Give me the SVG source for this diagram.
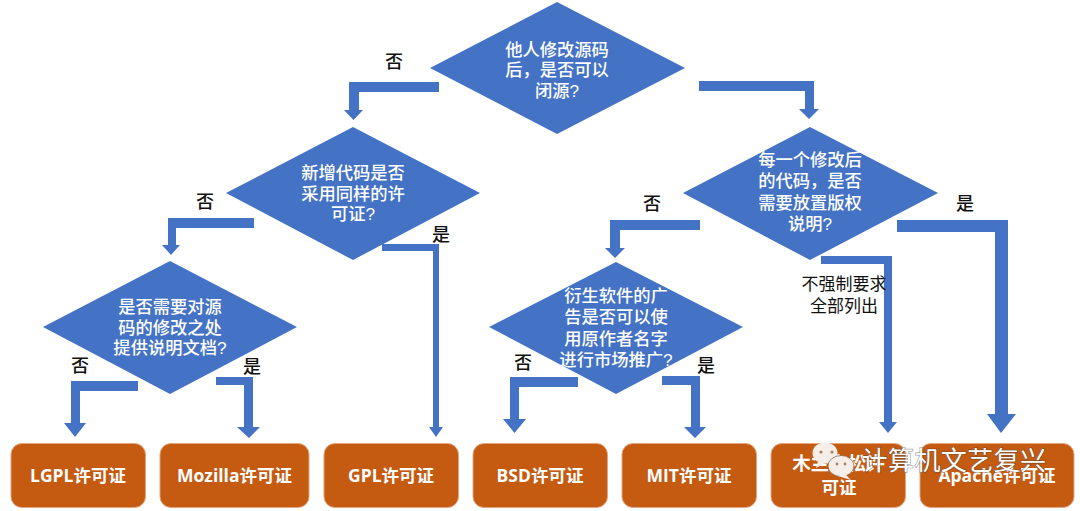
<svg xmlns="http://www.w3.org/2000/svg" width="1080" height="511" viewBox="0 0 1080 511">
<style>
text{font-family:"Open Sans","Noto Sans CJK SC",sans-serif;text-anchor:middle}
.d polygon{fill:#4472C4}
.d text{fill:#fff;font-size:17.300px;font-weight:500;font-family:"Liberation Sans","Noto Sans CJK SC",sans-serif}
.b rect{fill:#C55A11;stroke:#e2a57e;stroke-width:1}
.b text{fill:#fff;font-size:17.500px;font-weight:700}
#connectors polygon{fill:#4472C4}
.l{fill:#111;font-size:18px;font-weight:500;font-family:"Noto Sans CJK SC",sans-serif}
.s{fill:#111;font-size:17px;font-family:"Noto Sans CJK SC",sans-serif}
</style>
<rect width="1080" height="511" fill="#fff"/>
<g id="connectors">
<polygon points="439,82 349,82 349,110 344,110 353.500,120 363,110 359,110 359,92 439,92"/>
<polygon points="699,81 814,81 814,109 819,109 809,119 799,109 805,109 805,91 699,91"/>
<polygon points="254,218 168,218 168,245 162,245 171,255 180,245 176,245 176,228 254,228"/>
<polygon points="382,244 439,244 439,427 443,427 436,437 429,427 433,427 433,251 382,251"/>
<polygon points="138,381 71,381 71,423 64,423 75,437 86,423 80,423 80,391 138,391"/>
<polygon points="216,377 253,377 253,427 260,427 249,438 237,427 244,427 244,385 216,385"/>
<polygon points="700,220 610,220 610,248 605,248 615,258 625,248 620,248 620,230 700,230"/>
<polygon points="578,377 510,377 510,419 503,419 514.500,433 526,419 519,419 519,387 578,387"/>
<polygon points="662,376 700,376 700,427 706,427 695,438 684,427 691,427 691,385 662,385"/>
<polygon points="821,256 892,256 892,422 897,422 888,433 879,422 884,422 884,264 821,264"/>
<polygon points="897,220 1008,220 1008,414 1016,414 1001,433 987,414 995,414 995,232 897,232"/>
</g>
<g id="n1" class="d"><polygon points="430,68 557,2 685,68 557,134"/><text x="557" y="56">他人修改源码</text><text x="557" y="76">后，是否可以</text><text x="557" y="97">闭源?</text></g>
<g id="n2" class="d"><polygon points="226,193 353,127 480,193 353,260"/><text x="353" y="179">新增代码是否</text><text x="353" y="200">采用同样的许</text><text x="353" y="220">可证?</text></g>
<g id="n3" class="d"><polygon points="683,193 810,127 938,193 810,260"/><text x="810" y="166">每一个修改后</text><text x="810" y="187">的代码，是否</text><text x="810" y="209">需要放置版权</text><text x="810" y="230">说明?</text></g>
<g id="n4" class="d"><polygon points="43,327 170,261 297,327 170,394"/><text x="170" y="313">是否需要对源</text><text x="170" y="334">码的修改之处</text><text x="170" y="354">提供说明文档?</text></g>
<g id="n5" class="d"><polygon points="489,327 616,262 743,327 616,394"/><text x="616" y="302">衍生软件的广</text><text x="616" y="323">告是否可以使</text><text x="616" y="345">用原作者名字</text><text x="616" y="366">进行市场推广?</text></g>
<g id="b1" class="b"><rect x="11" y="443.500" width="134.500" height="64" rx="11"/><text x="78" y="482">LGPL许可证</text></g>
<g id="b2" class="b"><rect x="160" y="443.500" width="149" height="64" rx="11"/><text x="234.500" y="482">Mozilla许可证</text></g>
<g id="b3" class="b"><rect x="324" y="443.500" width="134.500" height="64" rx="11"/><text x="391" y="482">GPL许可证</text></g>
<g id="b4" class="b"><rect x="473" y="443.500" width="134.500" height="64" rx="11"/><text x="540" y="482">BSD许可证</text></g>
<g id="b5" class="b"><rect x="622" y="443.500" width="134.500" height="64" rx="11"/><text x="689" y="482">MIT许可证</text></g>
<g id="b6" class="b"><rect x="771" y="443.500" width="134.500" height="64" rx="11"/><text x="838.500" y="470" style="font-size:18.500px">木兰宽松许</text><text x="839" y="494">可证</text></g>
<g id="b7" class="b"><rect x="920" y="443.500" width="154" height="64" rx="11"/><text x="997" y="482">Apache许可证</text></g>
<g id="labels">
<text class="l" x="394" y="68">否</text>
<text class="l" x="205" y="208">否</text>
<text class="l" x="652" y="210">否</text>
<text class="l" x="80" y="372">否</text>
<text class="l" x="523" y="369">否</text>
<text class="l" x="441" y="241">是</text>
<text class="l" x="252" y="373">是</text>
<text class="l" x="706" y="372">是</text>
<text class="l" x="965" y="210">是</text>
<text class="s" x="844" y="290">不强制要求</text>
<text class="s" x="844" y="312">全部列出</text>
</g>
<g id="watermark">
<ellipse cx="825" cy="453" rx="12.500" ry="10.500" fill="#f6efe9"/>
<polygon points="818,461 816,468 825,463" fill="#f6efe9"/>
<ellipse cx="841" cy="466" rx="13" ry="10.500" fill="#f6efe9" stroke="#7a5a45" stroke-width=".7"/>
<polygon points="845,474 851,480 838,476" fill="#f6efe9"/>
<circle cx="821" cy="452" r="1.600" fill="#a5826b"/><circle cx="832" cy="452" r="1.600" fill="#a5826b"/>
<circle cx="837" cy="464" r="1.400" fill="#a5826b"/><circle cx="845" cy="464" r="1.400" fill="#a5826b"/>
<text x="954" y="470" font-size="26" style="font-family:'Noto Sans CJK SC',sans-serif;letter-spacing:.4px;paint-order:stroke" fill="#fff" stroke="#444" stroke-opacity=".6" stroke-width="1.200">计算机文艺复兴</text>
</g>
</svg>
